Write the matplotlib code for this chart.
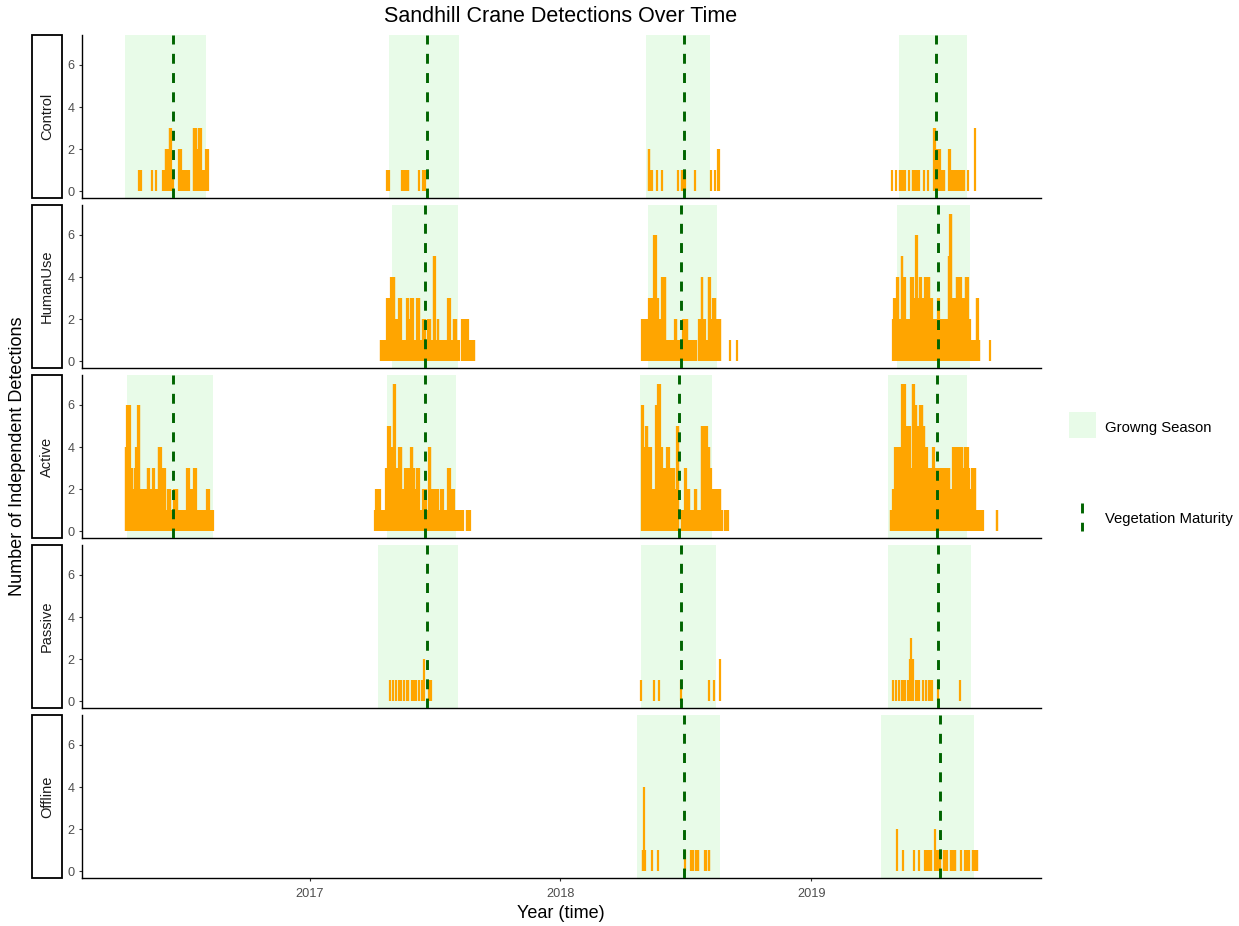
import matplotlib
matplotlib.use("Agg")
import matplotlib.pyplot as plt
import matplotlib.dates as mdates
from matplotlib.patches import Rectangle
from matplotlib.lines import Line2D
from datetime import date, timedelta

plt.rcParams['font.family'] = ['Liberation Sans', 'DejaVu Sans']

facets = ["Control", "HumanUse", "Active", "Passive", "Offline"]

# daily detections as runs: (first day of year, last day of year + 1, count)
control = {
    2016: [(118, 119, 1), (121, 122, 1), (138, 139, 1), (143, 144, 1), (154, 157, 1), (157, 163, 2), (163, 166, 3),
           (166, 169, 1), (177, 180, 2), (180, 192, 1), (198, 202, 3), (202, 205, 2), (205, 209, 3), (209, 216, 1),
           (216, 220, 2)],
    2017: [(113, 114, 1), (116, 117, 1), (135, 145, 1), (160, 161, 1), (166, 167, 1), (169, 170, 1)],
    2018: [(129, 131, 2), (131, 134, 1), (141, 142, 1), (148, 149, 1), (172, 173, 1), (177, 182, 1), (196, 197, 1),
           (220, 221, 1), (226, 227, 1), (230, 232, 2)],
    2019: [(118, 119, 1), (124, 125, 1), (129, 137, 1), (142, 143, 1), (148, 158, 1), (164, 165, 1), (170, 171, 1),
           (179, 181, 3), (183, 188, 2), (188, 195, 1), (201, 203, 2), (203, 224, 1), (228, 229, 1), (238, 239, 3)],
}
humanuse = {
    2017: [(104, 113, 1), (113, 119, 3), (119, 125, 4), (125, 131, 2), (131, 134, 3), (134, 142, 1), (142, 145, 3),
           (145, 148, 2), (148, 152, 3), (152, 157, 1), (157, 161, 3), (161, 165, 1), (165, 169, 2), (169, 173, 1),
           (173, 177, 2), (177, 181, 1), (181, 184, 5), (184, 187, 1), (187, 189, 2), (189, 202, 1), (202, 206, 3),
           (206, 210, 1), (210, 215, 2), (215, 219, 1), (222, 227, 2), (227, 229, 1), (229, 232, 2), (232, 241, 1)],
    2018: [(119, 130, 2), (130, 135, 3), (135, 137, 1), (137, 140, 6), (140, 143, 3), (143, 145, 1), (145, 148, 2),
           (148, 154, 4), (154, 167, 1), (167, 170, 2), (170, 174, 1), (176, 179, 1), (179, 186, 2), (186, 199, 1),
           (202, 206, 2), (206, 208, 4), (208, 212, 2), (212, 216, 1), (216, 219, 4), (219, 223, 2), (223, 227, 3),
           (227, 234, 2), (247, 248, 1), (258, 259, 1)],
    2019: [(119, 121, 2), (121, 124, 3), (124, 125, 2), (125, 128, 4), (128, 132, 2), (132, 134, 5), (134, 137, 4),
           (137, 146, 2), (146, 149, 4), (149, 153, 3), (153, 155, 6), (155, 158, 3), (158, 161, 4), (161, 166, 3),
           (166, 168, 4), (168, 170, 3), (170, 173, 4), (173, 177, 3), (177, 179, 1), (179, 185, 2), (185, 187, 3),
           (187, 200, 2), (200, 202, 5), (202, 205, 7), (205, 212, 3), (212, 219, 4), (219, 225, 3), (225, 229, 4),
           (229, 232, 2), (232, 241, 1), (241, 244, 3), (244, 246, 1), (261, 262, 1)],
}
active = {
    2016: [(99, 101, 4), (101, 106, 6), (106, 109, 3), (109, 112, 2), (112, 114, 3), (114, 117, 4), (117, 120, 6),
           (120, 129, 2), (129, 131, 1), (131, 134, 3), (134, 136, 1), (136, 139, 2), (139, 141, 3), (141, 146, 2),
           (146, 147, 1), (147, 151, 4), (151, 153, 1), (153, 157, 3), (157, 159, 1), (160, 165, 2), (165, 170, 1),
           (170, 175, 2), (175, 188, 1), (188, 192, 3), (192, 199, 2), (199, 202, 3), (202, 218, 1), (218, 221, 2),
           (221, 227, 1)],
    2017: [(96, 97, 1), (97, 104, 2), (104, 112, 1), (112, 115, 3), (115, 118, 5), (118, 123, 4), (123, 126, 7),
           (126, 131, 3), (131, 135, 4), (135, 140, 2), (140, 148, 3), (148, 151, 4), (151, 154, 3), (154, 157, 2),
           (157, 160, 3), (160, 166, 1), (166, 171, 2), (171, 174, 1), (174, 177, 4), (177, 183, 2), (183, 185, 1),
           (185, 188, 2), (188, 192, 1), (192, 195, 2), (195, 202, 1), (202, 206, 3), (206, 211, 2), (211, 224, 1),
           (229, 235, 1)],
    2018: [(119, 121, 6), (121, 125, 4), (125, 128, 5), (128, 133, 4), (133, 140, 2), (140, 143, 6), (143, 146, 7),
           (146, 149, 4), (149, 153, 3), (153, 156, 2), (156, 159, 4), (159, 162, 3), (162, 164, 1), (164, 167, 3),
           (167, 170, 2), (170, 173, 5), (177, 182, 1), (182, 184, 3), (184, 186, 1), (186, 189, 2), (189, 196, 1),
           (196, 199, 2), (199, 206, 1), (206, 214, 5), (214, 218, 4), (218, 220, 3), (220, 234, 2), (234, 237, 1),
           (240, 245, 1)],
    2019: [(116, 119, 1), (119, 122, 2), (122, 127, 4), (127, 130, 3), (130, 133, 4), (133, 137, 7), (137, 139, 4),
           (139, 145, 5), (145, 148, 3), (148, 151, 7), (151, 154, 6), (154, 157, 5), (157, 159, 4), (159, 163, 6),
           (163, 166, 5), (166, 169, 4), (169, 172, 3), (172, 175, 2), (175, 178, 3), (178, 180, 4), (180, 190, 3),
           (190, 192, 2), (192, 195, 3), (195, 197, 2), (197, 202, 3), (202, 207, 2), (207, 221, 4), (221, 224, 3),
           (224, 229, 4), (229, 231, 3), (231, 234, 2), (234, 240, 3), (240, 251, 1), (270, 272, 1)],
}
passive = {
    2017: [(118, 119, 1), (122, 123, 1), (126, 127, 1), (131, 134, 1), (138, 139, 1), (142, 145, 1), (150, 156, 1),
           (160, 161, 1), (164, 165, 1), (167, 168, 2), (174, 175, 1), (177, 178, 1)],
    2018: [(118, 119, 1), (137, 138, 1), (144, 145, 1), (176, 177, 1), (217, 218, 1), (224, 225, 1), (233, 234, 2)],
    2019: [(119, 120, 1), (124, 125, 1), (128, 129, 1), (132, 137, 1), (141, 142, 1), (144, 145, 2), (146, 147, 3),
           (148, 149, 2), (153, 158, 1), (163, 164, 1), (167, 168, 1), (171, 177, 1), (185, 186, 1), (217, 218, 1)],
}
offline = {
    2018: [(120, 122, 1), (122, 123, 4), (123, 124, 1), (134, 135, 1), (142, 143, 1), (181, 182, 1), (191, 194, 1),
           (197, 202, 1), (211, 213, 1), (216, 218, 1)],
    2019: [(125, 126, 2), (134, 135, 1), (150, 151, 1), (157, 158, 1), (166, 176, 1), (180, 181, 2), (183, 189, 1),
           (193, 199, 1), (203, 211, 1), (218, 219, 1), (224, 231, 1), (235, 243, 1)],
}

# growing season per facet: (year, start doy, end doy, vegetation maturity doy)
control_season = [(2016, 99, 217, 169), (2017, 116, 219, 172), (2018, 125, 219, 180), (2019, 128, 228, 182)]
humanuse_season = [(2017, 121, 217, 169), (2018, 128, 228, 176), (2019, 125, 231, 185)]
active_season = [(2016, 102, 227, 169), (2017, 113, 214, 169), (2018, 116, 222, 174), (2019, 112, 228, 183)]
passive_season = [(2017, 100, 217, 172), (2018, 118, 227, 176), (2019, 112, 233, 185)]
offline_season = [(2018, 113, 233, 180), (2019, 102, 238, 188)]

detections = [control, humanuse, active, passive, offline]
seasons = [control_season, humanuse_season, active_season, passive_season, offline_season]

year_ticks = [2017, 2018, 2019]


def dnum(year, doy):
    return mdates.date2num(date(year, 1, 1) + timedelta(days=doy - 1))


W, H = 1239, 926
fig = plt.figure(figsize=(W / 100, H / 100), dpi=100)

ORANGE = "#FFA500"
DARKGREEN = "#006400"
DASH = (0, (3.4, 3.2))
px_left, px_right = 82, 1041
panel_tops = [35, 205, 375, 545, 715]
panel_h = 163
xmin = mdates.date2num(date(2016, 2, 5))
xmax = mdates.date2num(date(2019, 12, 1))

for i, name in enumerate(facets):
    top = panel_tops[i]
    ax = fig.add_axes([px_left / W, 1 - (top + panel_h) / H, (px_right - px_left) / W, panel_h / H])

    for yr, s, e, m in seasons[i]:
        ax.axvspan(dnum(yr, s), dnum(yr, e), color="#90EE90", alpha=0.2, lw=0, zorder=1)

    # one vertical line per day, like the daily columns in the original
    xs, hs = [], []
    for yr, runs in detections[i].items():
        for s, e, c in runs:
            for d in range(s, e):
                xs.append(dnum(yr, d) + 0.5)
                hs.append(c)
    ax.vlines(xs, 0, hs, color=ORANGE, lw=1.6, zorder=2)

    for yr, s, e, m in seasons[i]:
        ax.axvline(dnum(yr, m), color=DARKGREEN, lw=2.1, linestyle=DASH, zorder=3)

    ax.set_xlim(xmin, xmax)
    ax.set_ylim(-0.32, 7.42)
    ax.set_yticks([0, 2, 4, 6])
    ax.tick_params(axis="y", length=2.5, width=0.8, color="#333333", labelcolor="#4D4D4D",
                   labelsize=9.2, pad=3)
    for sp in ["top", "right"]:
        ax.spines[sp].set_visible(False)
    for sp in ["left", "bottom"]:
        ax.spines[sp].set_linewidth(1.0)
        ax.spines[sp].set_color("black")
    ax.patch.set_alpha(0)
    if i < len(facets) - 1:
        ax.set_xticks([])
    else:
        ax.set_xticks([dnum(y, 1) for y in year_ticks])
        ax.set_xticklabels([str(y) for y in year_ticks])
        ax.tick_params(axis="x", length=2.5, width=0.8, color="#333333", labelcolor="#4D4D4D",
                       labelsize=9.2, pad=5)

# overlay in pixel coordinates for strips, titles and legend
ov = fig.add_axes([0, 0, 1, 1], zorder=-1)
ov.set_xlim(0, W)
ov.set_ylim(H, 0)
ov.axis("off")

for i, name in enumerate(facets):
    top = panel_tops[i]
    ov.add_patch(Rectangle((32, top), 30, panel_h, facecolor="white", edgecolor="black", lw=1.3))
    ov.text(47, top + panel_h / 2, name, rotation=90, ha="center", va="center", fontsize=10.5,
            color="#1A1A1A")

ov.text(561, 16, "Sandhill Crane Detections Over Time", ha="center", va="center", fontsize=15.5,
        color="black")
ov.text(18, 456, "Number of Independent Detections", rotation=90, ha="center", va="center",
        fontsize=13, color="black")
ov.text(561, 914, "Year (time)", ha="center", va="center", fontsize=13, color="black")

# legend
ov.add_patch(Rectangle((1069, 412), 27, 26, facecolor="#90EE90", alpha=0.2, lw=0))
ov.text(1105, 428, "Growng Season", ha="left", va="center", fontsize=10.7, color="black")
ov.add_line(Line2D([1082, 1082], [503, 531], color=DARKGREEN, lw=2.1, linestyle=DASH))
ov.text(1105, 519, "Vegetation Maturity", ha="left", va="center", fontsize=10.7, color="black")

fig.savefig("out.png", dpi=100)
